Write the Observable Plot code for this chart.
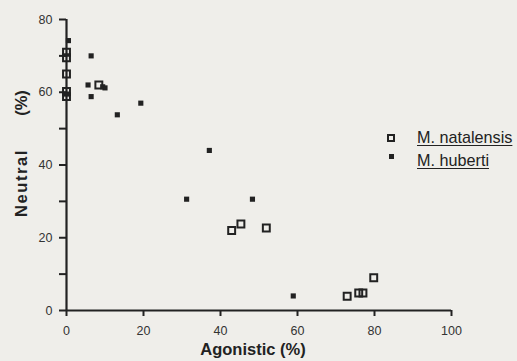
<!DOCTYPE html>
<html>
<head>
<meta charset="utf-8">
<script src="https://cdn.jsdelivr.net/npm/d3@7"></script>
<script src="https://cdn.jsdelivr.net/npm/@observablehq/plot@0.6"></script>
<style>
  html, body { margin: 0; padding: 0; background: #efeeea; }
  #wrap { position: relative; width: 517px; height: 361px; font-family: "Liberation Sans", Arial, sans-serif; }
  #legend { position: absolute; left: 387px; top: 126px; font-size: 16.2px; color: #222; line-height: 23px; white-space: nowrap; }
  #legend .row { display: flex; align-items: center; }
  #legend .sym { width: 8px; height: 8px; box-sizing: border-box; margin-right: 22px; }
  #legend .open { border: 2px solid #222; }
  #legend .fill { width: 5px; height: 5px; background: #222; margin-left: 2px; margin-right: 23px; position: relative; top: -4px; }
  #legend span { text-decoration: underline; text-underline-offset: 2px; }
</style>
</head>
<body>
<div id="wrap"></div>
<script>
// M. natalensis (open squares)
const natalensisX = [0, 0, 0, 0, 0, 8.4, 42.9, 45.3, 51.9, 72.9, 75.9, 77.0, 79.8];
const natalensisY = [71, 69.5, 65, 60.2, 58.8, 62, 22, 23.8, 22.7, 3.9, 4.8, 4.8, 9.0];
// M. huberti (filled squares)
const hubertiX = [0.5, 0, 6.4, 5.6, 9.4, 10.0, 6.4, 13.2, 19.3, 37.1, 31.2, 48.3, 58.9];
const hubertiY = [74.2, 59.5, 70, 62, 61.5, 61.2, 58.8, 53.8, 57, 44, 30.6, 30.6, 4.0];

const xTicks = [0, 20, 40, 60, 80, 100];
const yTicks = [0, 20, 40, 60, 80];
const yMinor = [10, 30, 50, 70];

const natalensis = natalensisX.map((x, i) => ({x, y: natalensisY[i]}));
const huberti = hubertiX.map((x, i) => ({x, y: hubertiY[i]}));

const ink = "#222";
const chart = Plot.plot({
  width: 517,
  height: 361,
  marginLeft: 66,
  marginRight: 66,
  marginTop: 19,
  marginBottom: 51,
  style: {background: "transparent", fontFamily: "Liberation Sans, Arial, sans-serif", fontSize: "12px", color: "#333"},
  x: {type: "linear", domain: [0, 100], label: null},
  y: {type: "linear", domain: [0, 80], label: null},
  marks: [
    Plot.axisX({ticks: xTicks, tickSize: 6, tickPadding: 10, strokeWidth: 2, stroke: ink, label: null, fontSize: 12.5, fill: "#333"}),
    Plot.axisY({ticks: yTicks, tickSize: 7, tickPadding: 7, strokeWidth: 2, stroke: ink, label: null, fontSize: 12.5, fill: "#333"}),
    Plot.axisY({ticks: yMinor, tickSize: 7, tickFormat: () => "", strokeWidth: 2, stroke: ink, label: null}),
    Plot.ruleX([0], {stroke: ink, strokeWidth: 2.2}),
    Plot.ruleY([0], {stroke: ink, strokeWidth: 2.2}),
    Plot.dot(huberti, {x: "x", y: "y", symbol: "square", r: 2.9, fill: ink, stroke: "none"}),
    Plot.dot(natalensis, {x: "x", y: "y", symbol: "square", r: 3.9, fill: "none", stroke: ink, strokeWidth: 2}),
    Plot.text(["Agonistic (%)"], {frameAnchor: "bottom", dx: -6, dy: 44, fontWeight: "bold", fontSize: 16.5, fill: ink}),
    Plot.text(["(%)"], {frameAnchor: "left", textAnchor: "middle", dx: -45, dy: -62, rotate: -90, fontWeight: "bold", fontSize: 16.5, fill: ink}),
    Plot.text(["Neutral"], {frameAnchor: "left", textAnchor: "middle", dx: -45, dy: 18, rotate: -90, fontWeight: "bold", fontSize: 16.5, fill: ink})
  ]
});
// widen the letter spacing of the y label as in the reference
d3.select(chart).selectAll("text").filter(function() { return this.textContent === "Neutral"; })
  .attr("letter-spacing", "1.6px");
document.getElementById("wrap").appendChild(chart);

const legend = document.createElement("div");
legend.id = "legend";
legend.innerHTML = `
  <div class="row"><div class="sym open"></div><span>M. natalensis</span></div>
  <div class="row"><div class="sym fill"></div><span>M. huberti</span></div>`;
document.getElementById("wrap").appendChild(legend);
</script>
</body>
</html>
